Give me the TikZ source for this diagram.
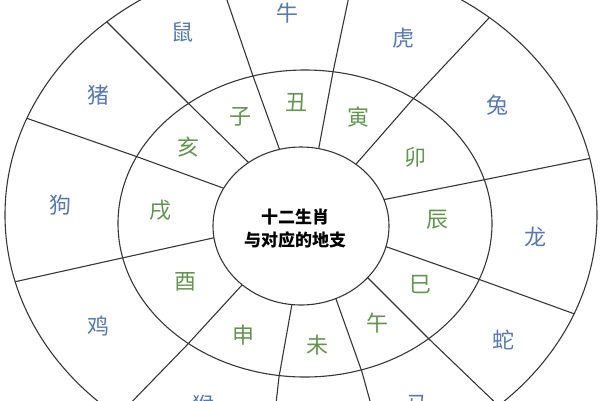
\documentclass[tikz,border=0pt]{standalone}
\usepackage{fontspec}
\newfontfamily\cjk{Noto Sans CJK SC}
\usetikzlibrary{calc}
\definecolor{zodiacblue}{RGB}{86,120,180}
\definecolor{branchgreen}{RGB}{98,150,78}
\definecolor{wheelline}{RGB}{55,55,55}
\begin{document}
\begin{tikzpicture}[x=1pt,y=-1pt,
  wheel/.style={draw=wheelline,line width=1.1pt},
  animal/.style={font=\cjk\fontsize{22}{26}\selectfont,text=zodiacblue,inner sep=0pt},
  branch/.style={font=\cjk\fontsize{22}{26}\selectfont,text=branchgreen,inner sep=0pt},
  title/.style={font=\cjk\bfseries\fontsize{17}{23}\selectfont,align=center,text=black,inner sep=0pt}]
\useasboundingbox (0,0) rectangle (600,400);
\clip (0,0) rectangle (600,400);
\fill[white] (0,0) rectangle (600,400);
% spokes (inner point / middle point / outer point)
\begin{scope}
  \clip (301,215) ellipse [x radius=296pt, y radius=256pt];
  \foreach \cx/\cy/\mx/\my/\ox/\oy in {
      248/162/188/103/107/22,
      279/148/253/76/216/-32,
      319/147/333/72/356/-37,
      357/163/413/99/488/19,
      387/199/483/180/587/159,
      387/247/478/279/572/313,
      368/278/430/340/505/412,
      336/299/362/372/378/430,
      292/304/279/377/273/430,
      242/285/187/345/120/414,
      213/238/122/258/14/282,
      223/188/135/156/26/118}{
    \coordinate (ci) at (\cx,\cy);
    \coordinate (mi) at (\mx,\my);
    \coordinate (oi) at (\ox,\oy);
    \draw[wheel] ($(oi)!-0.3!(mi)$) -- (mi) -- ($(mi)!1.2!(ci)$);
  }
\end{scope}
% rings
\draw[wheel] (301,215) ellipse [x radius=296pt, y radius=256pt];
\draw[wheel] (305,223.5) ellipse [x radius=187pt, y radius=153.5pt];
\filldraw[wheel,fill=white] (301,226) ellipse [x radius=88pt, y radius=79pt];
\node[title] (title) at (295,228.5) {十二生肖\\与对应的地支};
% animals
\node[animal] (shu)  at (182,32)  {鼠};
\node[animal] (niu)  at (287,13)  {牛};
\node[animal] (hu)   at (403,38)  {虎};
\node[animal] (tu)   at (497,105) {兔};
\node[animal] (long) at (535,237) {龙};
\node[animal] (she)  at (503,340) {蛇};
\node[animal] (ma)   at (417,405) {马};
\node[animal] (hou)  at (203,405) {猴};
\node[animal] (ji)   at (98,326)  {鸡};
\node[animal] (gou)  at (60,205)  {狗};
\node[animal] (zhu)  at (98,95)   {猪};
% branches
\node[branch] (zi)   at (240,117) {子};
\node[branch] (chou) at (296,103) {丑};
\node[branch] (yin)  at (358,117) {寅};
\node[branch] (mao)  at (415,157) {卯};
\node[branch] (chen) at (437,220) {辰};
\node[branch] (si)   at (420,285) {巳};
\node[branch] (wu)   at (377,323) {午};
\node[branch] (wei)  at (317,345) {未};
\node[branch] (shen) at (243,335) {申};
\node[branch] (you)  at (185,282) {酉};
\node[branch] (xu)   at (160,210) {戌};
\node[branch] (hai)  at (188,147) {亥};
\end{tikzpicture}
\end{document}
